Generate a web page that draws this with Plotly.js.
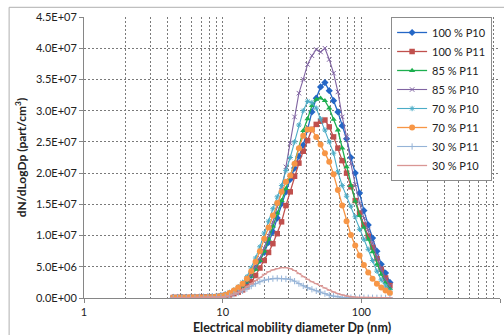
<!DOCTYPE html>
<html>
<head>
<meta charset="utf-8">
<script src="https://cdn.plot.ly/plotly-3.0.1.min.js"></script>
<style>html,body{margin:0;padding:0;background:#fff;}#chart{width:504px;height:335px;}</style>
</head>
<body>
<div id="chart"></div>
<script>
// Electrical mobility diameter Dp (nm)
var diameter = [4.40,4.73,5.08,5.46,5.87,6.31,6.78,7.29,7.83,8.41,9.04,9.71,10.43,11.21,12.05,12.95,13.92,14.96,16.07,17.27,18.56,19.94,21.43,23.03,24.75,26.60,28.58,30.71,33.00,35.47,38.11,40.96,44.01,47.30,50.82,54.62,58.69,63.07,67.76,72.83,78.26,84.10,90.36,97.12,104.35,112.14,120.50,129.50,139.16,149.55,160.70];

// dN/dLogDp values in millions of part/cm3
var p100_P10 = [0.10,0.11,0.11,0.12,0.12,0.13,0.14,0.15,0.17,0.20,0.25,0.35,0.50,0.70,0.95,1.3,1.8,2.4,3.6,4.8,6.0,7.3,8.9,10.6,12.8,15.1,17.0,19.0,20.8,22.7,24.5,27.0,29.8,32.0,33.8,34.5,33.2,31.6,29.8,27.6,25.5,22.5,20.0,16.8,14.0,11.7,9.6,7.5,5.4,4.0,2.5];
var p100_P11 = [0.08,0.08,0.09,0.09,0.10,0.10,0.11,0.12,0.13,0.15,0.18,0.25,0.35,0.5,0.7,0.95,1.3,1.8,2.6,3.6,4.8,6.0,7.3,8.7,10.3,12.2,14.8,17.0,19.5,21.6,23.5,25.2,27.0,27.8,28.3,28.5,27.4,25.8,24.0,22.0,20.0,17.8,15.6,13.6,11.7,9.9,8.1,6.3,4.6,3.2,2.0];
var p85_P11 = [0.10,0.10,0.11,0.11,0.12,0.12,0.13,0.14,0.16,0.19,0.24,0.34,0.5,0.7,1.0,1.4,1.9,2.6,3.5,4.6,6.0,7.5,9.4,11.5,13.6,15.6,17.5,19.6,21.6,24.0,26.8,28.7,30.8,31.8,32.0,31.6,30.4,28.6,26.9,24.0,21.0,18.0,15.5,13.2,11.3,9.4,7.4,5.4,3.8,2.5,1.5];
var p85_P10 = [0.10,0.10,0.11,0.11,0.12,0.13,0.14,0.15,0.17,0.20,0.26,0.36,0.5,0.7,1.0,1.4,2.0,2.7,3.7,5.0,6.4,8.0,10.0,12.2,14.6,17.2,21.0,24.8,29.0,32.8,35.0,37.4,38.8,39.8,39.4,40.0,38.2,36.0,33.0,29.0,25.8,21.5,18.2,15.2,12.8,10.9,8.8,6.6,4.6,3.0,1.9];
var p70_P10 = [0.10,0.10,0.11,0.12,0.12,0.13,0.14,0.16,0.19,0.23,0.30,0.42,0.6,0.9,1.3,1.8,2.5,3.4,4.8,6.4,8.2,10.4,12.3,14.3,16.2,18.0,20.4,22.5,25.0,27.7,30.0,31.5,31.3,30.4,28.7,26.9,25.0,23.2,20.2,18.0,16.3,14.7,13.0,11.0,9.4,7.8,6.0,4.3,2.9,1.9,1.1];
var p70_P11 = [0.09,0.09,0.10,0.10,0.11,0.11,0.12,0.13,0.15,0.18,0.24,0.34,0.5,0.8,1.2,1.7,2.3,3.1,4.3,5.8,7.5,9.5,11.3,13.2,15.2,17.0,18.6,19.6,21.5,24.0,26.0,27.0,27.0,25.8,24.6,23.2,21.8,19.8,17.3,14.8,12.3,10.1,8.4,6.8,5.3,4.1,3.1,2.3,1.7,1.2,0.8];
var p30_P11 = [0.05,0.05,0.05,0.05,0.06,0.06,0.07,0.08,0.09,0.11,0.13,0.16,0.2,0.35,0.6,0.85,1.15,1.5,1.9,2.3,2.6,2.85,3.0,3.1,3.15,3.1,3.05,3.0,2.7,2.3,1.95,1.65,1.4,1.15,0.95,0.7,0.45,0.3,0.18,0.12,0.08,0.06,0.05,0.05,0.04,0.04,0.04,0.03,0.03,0.03,0.03];
var p30_P10 = [0.05,0.05,0.05,0.05,0.06,0.06,0.07,0.08,0.09,0.11,0.13,0.16,0.2,0.35,0.6,0.9,1.3,1.8,2.3,2.8,3.3,3.8,4.2,4.5,4.7,4.85,4.85,4.7,4.4,3.9,3.4,3.0,2.6,2.3,2.0,1.6,1.25,0.95,0.7,0.5,0.3,0.2,0.15,0.12,0.1,0.09,0.08,0.08,0.07,0.07,0.06];

var seriesNames = ['100 % P10','100 % P11','85 % P11','85 % P10','70 % P10','70 % P11','30 % P11','30 % P10'];
var xTickVals = [1,10,100,1000];
var xTickText = ['1','10','100','1000'];
var yTickVals = [0,5e6,1e7,1.5e7,2e7,2.5e7,3e7,3.5e7,4e7,4.5e7];
var yTickText = ['0.0E+00','5.0E+06','1.0E+07','1.5E+07','2.0E+07','2.5E+07','3.0E+07','3.5E+07','4.0E+07','4.5E+07'];

var seriesData = [p100_P10,p100_P11,p85_P11,p85_P10,p70_P10,p70_P11,p30_P11,p30_P10];
var styles = [
  {color:'#2467C6', symbol:'diamond', size:5.5, lw:1.3, open:false},
  {color:'#C0504D', symbol:'square', size:5.5, lw:1.3, open:false},
  {color:'#1DAF4F', symbol:'triangle-up', size:5.5, lw:1.3, open:false},
  {color:'#8064A2', symbol:'x-thin-open', size:4.5, lw:1.1, open:true},
  {color:'#4BACC6', symbol:'asterisk-open', size:4.5, lw:1.1, open:true},
  {color:'#F79646', symbol:'circle', size:6, lw:1.3, open:false},
  {color:'#95B3D7', symbol:'cross-thin-open', size:4.5, lw:1.1, open:true},
  {color:'#D99694', symbol:'line-ew-open', size:3.5, lw:1.3, open:true}
];

var traces = seriesData.map(function(vals, i){
  var s = styles[i];
  var m = {symbol:s.symbol, size:s.size, color:s.color};
  if (s.open) m.line = {color:s.color, width:1};
  return {
    x: diameter,
    y: vals.map(function(v){return v*1e6;}),
    name: seriesNames[i],
    type: 'scatter',
    mode: 'lines+markers',
    line: {color:s.color, width:s.lw},
    marker: m
  };
});

var gridCol = '#7a7a7a';
var layout = {
  width:504, height:335,
  margin:{l:84, r:4, t:17, b:37, pad:0},
  paper_bgcolor:'#fff', plot_bgcolor:'#fff',
  font:{family:'Lato, "Open Sans", sans-serif', size:11, color:'#222'},
  showlegend:true,
  legend:{
    x:0.981, y:1.0, xanchor:'right', yanchor:'top',
    bgcolor:'#fff', bordercolor:'#8c8c8c', borderwidth:1,
    font:{family:'Lato, sans-serif', size:11, color:'#222'},
    itemwidth:30
  },
  xaxis:{
    type:'log', range:[0,3],
    tickmode:'array', tickvals:xTickVals, ticktext:xTickText,
    showgrid:true, gridcolor:gridCol, griddash:'2px,2px', gridwidth:1,
    minor:{dtick:'D1', showgrid:true, gridcolor:gridCol, griddash:'2px,2px', gridwidth:1},
    showline:true, linecolor:'#868686', linewidth:1,
    ticks:'outside', ticklen:4, tickcolor:'#868686',
    zeroline:false,
    tickfont:{size:11},
    title:{text:'<b>Electrical mobility diameter Dp (nm)</b>', font:{size:12.5}, standoff:8}
  },
  yaxis:{
    range:[0,4.5e7],
    tickmode:'array', tickvals:yTickVals, ticktext:yTickText,
    showgrid:true, gridcolor:gridCol, griddash:'2px,2px', gridwidth:1,
    showline:true, linecolor:'#868686', linewidth:1,
    ticks:'outside', ticklen:4, tickcolor:'#868686',
    zeroline:false,
    tickfont:{size:11},
    title:{text:'<b>dN/dLogDp (part/cm<sup>3</sup>)</b>', font:{size:12}, standoff:6}
  },
  shapes:[
    {type:'rect', xref:'paper', yref:'paper', x0:-0.18, x1:1.2, y0:-0.3, y1:1.0345,
     line:{color:'#b0b0b0', width:1}, fillcolor:'rgba(0,0,0,0)', layer:'below'}
  ]
};

Plotly.newPlot('chart', traces, layout, {displayModeBar:false, staticPlot:true});
</script>
</body>
</html>
